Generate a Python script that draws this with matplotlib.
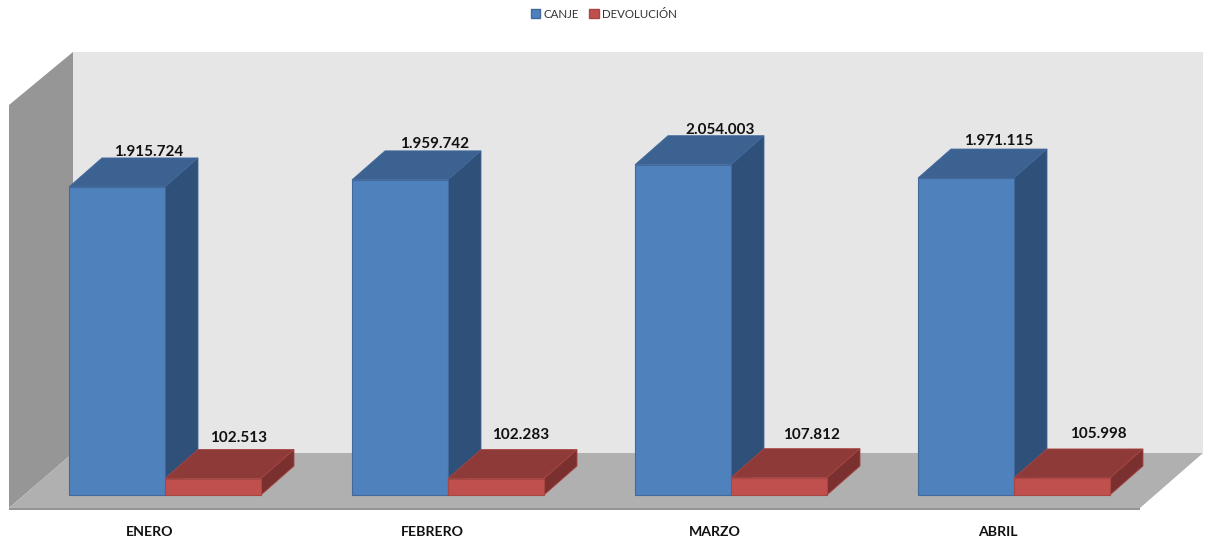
import matplotlib
matplotlib.use('Agg')
import matplotlib.pyplot as plt
from matplotlib.patches import Patch

meses = ['ENERO', 'FEBRERO', 'MARZO', 'ABRIL']
canje = [1915724, 1959742, 2054003, 1971115]
devolucion = [102513, 102283, 107812, 105998]

# text nudges in pixels, the labels don't sit at the same spot on each bar
canje_dx = [-33, -30, -27, -32]
canje_dy = [-1, 0, -1, 1]
devol_dx = [-39, -40, -32, -28]
devol_dy = [5, 8, 7, 8]
mes_dx = [-15, -16, -16, -16]

W, H = 1205, 545
PX_X = 283.0       # pixels per category
PX_Y = 1.608e-4    # pixels per unit
X0, Y0 = 165, 495  # pixel position of first group, value 0
ANCHO = 96 / PX_X
DX, DY = 33 / PX_X, 29 / PX_Y  # oblique depth of the bars

plt.rcParams['font.family'] = ['Lato', 'DejaVu Sans']


def to_data(px, py):
    return (px - X0) / PX_X, (Y0 - py) / PX_Y


def marco(ax, puntos, color, **kw):
    xs, ys = zip(*[to_data(*p) for p in puntos])
    ax.fill(xs, ys, color=color, lw=0, **kw)


def barra3d(ax, x, valor, frente, arriba, lado, borde):
    ax.fill([x, x + DX, x + ANCHO + DX, x + ANCHO],
            [valor, valor + DY, valor + DY, valor], color=arriba, ec=borde, lw=0.6, zorder=3)
    ax.fill([x + ANCHO, x + ANCHO + DX, x + ANCHO + DX, x + ANCHO],
            [0, DY, valor + DY, valor], color=lado, ec=borde, lw=0.6, zorder=3)
    ax.bar(x, valor, width=ANCHO, align='edge', color=frente, ec=borde, lw=0.8, zorder=3)


fig = plt.figure(figsize=(W / 100, H / 100), dpi=100)
ax = fig.add_axes([0, 0, 1, 1])
ax.set_xlim(-X0 / PX_X, (W - X0) / PX_X)
ax.set_ylim((Y0 - H) / PX_Y, Y0 / PX_Y)
ax.axis('off')

# walls and floor
marco(ax, [(73, 52), (1203, 52), (1203, 453), (73, 453)], '#e6e6e6', zorder=1)
marco(ax, [(9, 105), (73, 52), (73, 453), (9, 508)], '#969696', zorder=1)
marco(ax, [(9, 508), (73, 453), (1203, 453), (1140, 508)], '#b0b0b0', zorder=1)
marco(ax, [(9, 508), (1140, 508), (1140, 510), (9, 510)], '#949494', zorder=1)

for i in range(len(meses)):
    barra3d(ax, i - ANCHO, canje[i], '#4f81bd', '#3b6291', '#2f5078', '#41699c')
    barra3d(ax, i, devolucion[i], '#c0504d', '#8e3a38', '#7a302e', '#a84644')

    ax.annotate(f'{canje[i]:,}'.replace(',', '.'), (i + DX / 2, canje[i] + DY),
                xytext=(canje_dx[i], canje_dy[i]), textcoords='offset pixels',
                ha='center', va='bottom', fontsize=11, fontweight='bold', color='#111111', zorder=5)
    ax.annotate(f'{devolucion[i]:,}'.replace(',', '.'), (i + ANCHO + DX / 2, devolucion[i] + DY),
                xytext=(devol_dx[i], devol_dy[i]), textcoords='offset pixels',
                ha='center', va='bottom', fontsize=11, fontweight='bold', color='#111111', zorder=5)
    ax.annotate(meses[i], (i, 0), xytext=(mes_dx[i], -37), textcoords='offset pixels',
                ha='center', va='center', fontsize=10.2, fontweight='bold', color='#111111')

handles = [Patch(facecolor='#4f81bd', edgecolor='#41699c', label='CANJE'),
           Patch(facecolor='#c0504d', edgecolor='#a84644', label='DEVOLUCIÓN')]
fig.legend(handles=handles, loc='center', bbox_to_anchor=(604 / W, 1 - 14 / H), ncol=2, frameon=False,
           fontsize=8.3, handlelength=0.8, handleheight=0.85, handletextpad=0.3,
           columnspacing=0.9, labelcolor='#333333')

fig.savefig('out.png', dpi=100)
